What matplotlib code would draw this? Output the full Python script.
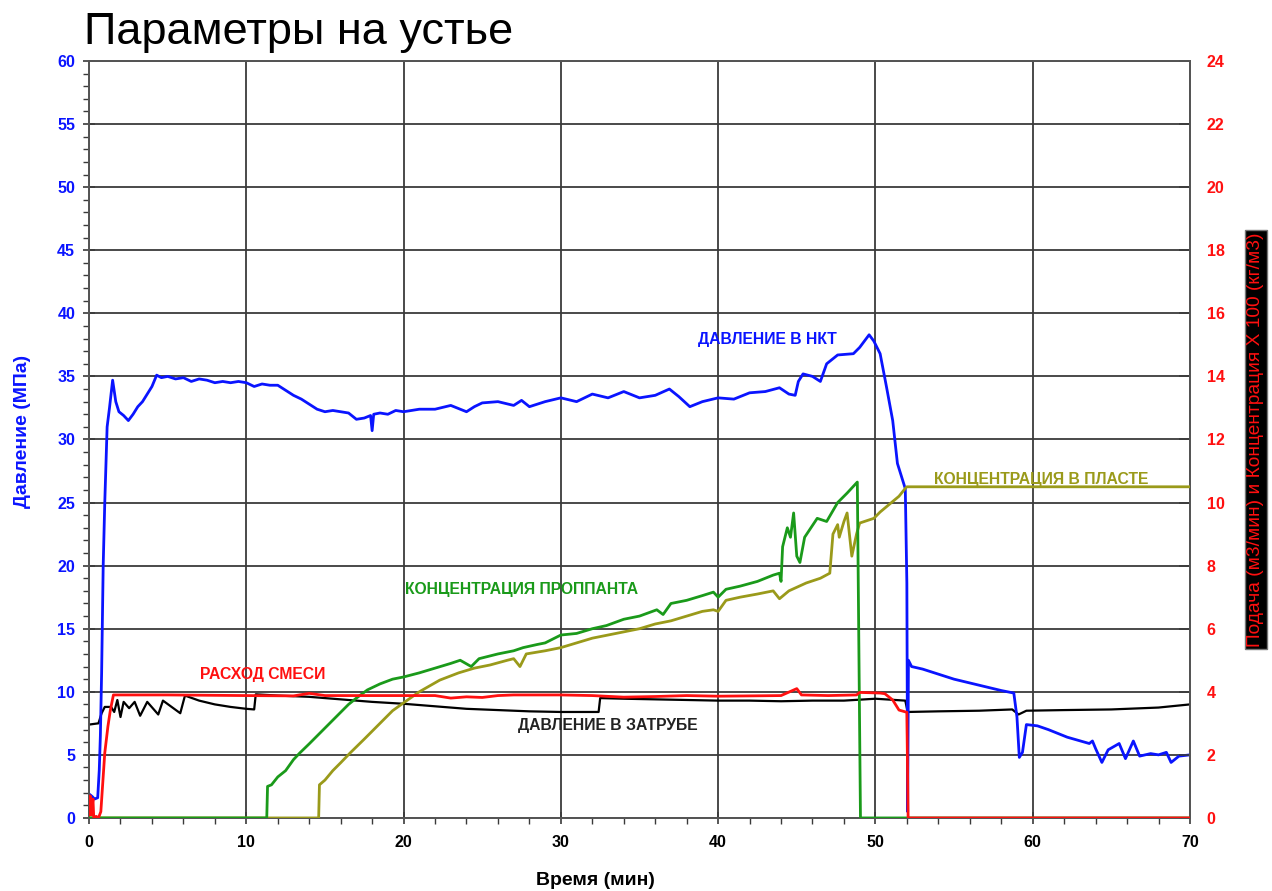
import matplotlib
matplotlib.use("Agg")
import matplotlib.pyplot as plt
from matplotlib.ticker import MultipleLocator

plt.rcParams['font.family'] = ['Liberation Sans', 'DejaVu Sans']

# ---------------- data ----------------
tubing_t = [0, 0.2, 0.35, 0.55, 0.65, 0.72, 0.8, 0.9, 1.0, 1.15, 1.3, 1.5, 1.7, 1.9, 2.2, 2.5, 2.8,
            3.1, 3.4, 3.7, 4.0, 4.3, 4.6, 5.0, 5.5, 6.0, 6.5, 7.0, 7.5, 8.0, 8.5, 9.0, 9.5, 10.0,
            10.5, 11.0, 11.5, 12.0, 12.5, 13.0, 13.5, 14.0, 14.5, 15.0, 15.5, 16.0, 16.5, 17.0,
            17.5, 17.9, 18.0, 18.1, 18.5, 19.0, 19.5, 20.0, 21.0, 22.0, 23.0, 24.0, 24.5, 25.0,
            26.0, 27.0, 27.5, 28.0, 29.0, 30.0, 31.0, 32.0, 33.0, 34.0, 35.0, 36.0, 36.9, 37.5,
            38.2, 39.0, 40.0, 41.0, 42.0, 43.0, 43.9, 44.5, 44.9, 45.1, 45.4, 46.0, 46.5, 46.9,
            47.6, 48.6, 49.0, 49.6, 49.9, 50.3, 50.7, 51.1, 51.4, 51.9, 52.0, 52.05, 52.1, 52.3,
            53.0, 54.0, 55.0, 56.0, 57.0, 58.0, 58.8, 59.0, 59.15, 59.35, 59.6, 60.3, 61.0, 62.2,
            63.6, 63.8, 64.0, 64.4, 64.8, 65.5, 65.9, 66.4, 66.8, 67.5, 68.0, 68.5, 68.8, 69.3, 70.0]
tubing_p = [1.9, 1.7, 1.5, 1.6, 3.8, 6.5, 11.5, 20.0, 25.0, 31.0, 32.5, 34.7, 33.0, 32.2, 31.9, 31.5, 32.0,
            32.6, 33.0, 33.6, 34.2, 35.1, 34.9, 35.0, 34.8, 34.9, 34.6, 34.8, 34.7, 34.5, 34.6, 34.5, 34.6, 34.5,
            34.2, 34.4, 34.3, 34.3, 33.9, 33.5, 33.2, 32.8, 32.4, 32.2, 32.3, 32.2, 32.1, 31.6,
            31.7, 31.9, 30.7, 32.0, 32.1, 32.0, 32.3, 32.2, 32.4, 32.4, 32.7, 32.2, 32.6, 32.9,
            33.0, 32.7, 33.1, 32.6, 33.0, 33.3, 33.0, 33.6, 33.3, 33.8, 33.3, 33.5, 34.0, 33.4,
            32.6, 33.0, 33.3, 33.2, 33.7, 33.8, 34.1, 33.6, 33.5, 34.6, 35.2, 35.0, 34.6, 36.0,
            36.7, 36.8, 37.3, 38.3, 37.8, 36.8, 34.2, 31.5, 28.1, 26.1, 18.6, 0.5, 12.5, 12.0,
            11.8, 11.4, 11.0, 10.7, 10.4, 10.1, 9.9, 8.0, 4.8, 5.2, 7.4, 7.3, 7.0, 6.4,
            5.9, 6.1, 5.5, 4.4, 5.4, 5.9, 4.7, 6.1, 4.9, 5.1, 5.0, 5.2, 4.4, 4.9, 5.0]

annulus_t = [0, 0.6, 0.8, 1.0, 1.4, 1.6, 1.8, 2.0, 2.2, 2.55, 2.9, 3.25, 3.7, 4.4, 4.7, 5.8, 6.1, 7.0,
             8.0, 9.0, 10.0, 10.5, 10.6, 12.0, 14.0, 16.0, 18.0, 20.0, 22.0, 24.0, 26.0, 28.0, 30.0,
             32.4, 32.5, 34.0, 36.0, 38.0, 40.0, 42.0, 44.0, 46.0, 48.0, 50.0, 51.9, 52.05, 54.0,
             56.6, 58.7, 59.1, 59.6, 62.0, 65.0, 68.0, 70.0]
annulus_p = [7.4, 7.5, 8.3, 8.8, 8.8, 8.4, 9.35, 8.0, 9.2, 8.7, 9.2, 8.1, 9.2, 8.2, 9.3, 8.3, 9.7, 9.3,
             9.0, 8.8, 8.65, 8.6, 9.8, 9.7, 9.6, 9.4, 9.2, 9.05, 8.85, 8.65, 8.55, 8.45, 8.4,
             8.4, 9.5, 9.45, 9.4, 9.35, 9.3, 9.3, 9.25, 9.3, 9.3, 9.45, 9.3, 8.4, 8.45,
             8.5, 8.6, 8.2, 8.5, 8.55, 8.6, 8.75, 9.0]

rate_t = [0, 0.08, 0.15, 0.25, 0.3, 0.45, 0.6, 0.75, 1.0, 1.2, 1.35, 1.55, 5.0, 10.0, 13.0, 14.0, 15.0,
          20.0, 22.0, 23.0, 24.0, 25.0, 26.0, 27.0, 30.0, 32.0, 34.0, 36.0, 38.0, 40.0, 42.0, 44.0,
          45.0, 45.3, 47.0, 48.8, 49.0, 50.3, 50.6, 51.1, 51.5, 52.0, 52.08, 70.0]
rate_v = [0.1, 0.7, 0.1, 0.6, 0.0, 0.05, 0.0, 0.2, 2.06, 2.9, 3.4, 3.9, 3.9, 3.88, 3.87, 3.95, 3.88,
          3.88, 3.88, 3.8, 3.84, 3.82, 3.88, 3.9, 3.9, 3.88, 3.83, 3.85, 3.88, 3.86, 3.87, 3.88,
          4.1, 3.9, 3.88, 3.9, 3.98, 3.96, 3.94, 3.74, 3.42, 3.35, 0.0, 0.0]

prop_t = [0, 11.3, 11.35, 11.6, 12.0, 12.5, 13.0, 13.4, 14.0, 14.5, 15.0, 15.5, 16.0, 16.5, 17.0, 17.7,
          18.5, 19.3, 20.0, 21.0, 22.0, 23.0, 23.6, 24.3, 24.8, 26.0, 27.0, 27.6, 28.5, 29.0, 30.0,
          31.0, 32.0, 32.9, 34.0, 35.0, 36.1, 36.5, 37.0, 38.0, 39.0, 39.7, 40.0, 40.5, 41.4, 42.5,
          43.5, 43.9, 44.0, 44.1, 44.4, 44.6, 44.8, 45.0, 45.2, 45.5, 46.3, 46.9, 47.6, 48.2, 48.85,
          49.05, 70.0]
prop_v = [0, 0, 1.0, 1.05, 1.3, 1.5, 1.85, 2.06, 2.35, 2.6, 2.85, 3.1, 3.35, 3.6, 3.8, 4.06,
          4.25, 4.4, 4.47, 4.6, 4.75, 4.9, 5.0, 4.8, 5.05, 5.2, 5.3, 5.4, 5.5, 5.55, 5.8,
          5.85, 6.0, 6.1, 6.3, 6.4, 6.6, 6.45, 6.8, 6.9, 7.05, 7.16, 7.0, 7.25, 7.35, 7.5,
          7.7, 7.76, 7.5, 8.6, 9.2, 8.9, 9.67, 8.3, 8.1, 8.9, 9.5, 9.4, 10.0, 10.3, 10.65,
          0.0, 0.0]

form_t = [0, 14.6, 14.65, 15.0, 15.5, 16.0, 16.6, 17.5, 18.5, 19.3, 20.0, 21.0, 22.3, 23.5, 24.5, 25.5,
          26.6, 27.0, 27.4, 27.8, 29.0, 30.0, 31.0, 32.0, 33.0, 34.0, 35.0, 36.0, 37.0, 38.0, 39.0,
          39.7, 40.0, 40.5, 41.4, 42.5, 43.5, 43.9, 44.5, 45.6, 46.5, 47.1, 47.3, 47.6, 47.7, 48.0,
          48.2, 48.5, 48.8, 49.0, 49.9, 50.3, 50.9, 51.5, 51.9, 52.0, 70.0]
form_v = [0, 0, 1.05, 1.2, 1.5, 1.75, 2.06, 2.5, 3.0, 3.4, 3.65, 4.0, 4.37, 4.6, 4.75, 4.85,
          5.0, 5.05, 4.8, 5.2, 5.3, 5.4, 5.55, 5.7, 5.8, 5.9, 6.0, 6.15, 6.25, 6.4, 6.55,
          6.6, 6.55, 6.9, 7.0, 7.1, 7.2, 6.95, 7.2, 7.45, 7.6, 7.76, 9.0, 9.3, 8.9, 9.4,
          9.67, 8.3, 9.0, 9.35, 9.5, 9.7, 9.95, 10.2, 10.45, 10.5, 10.5]

left_ticks = [0, 5, 10, 15, 20, 25, 30, 35, 40, 45, 50, 55, 60]
right_ticks = [0, 2, 4, 6, 8, 10, 12, 14, 16, 18, 20, 22, 24]
x_ticks = [0, 10, 20, 30, 40, 50, 60, 70]

# ---------------- colours ----------------
BLUE = '#0a14ff'
RED = '#ff1010'
GREEN = '#1a9a1a'
OLIVE = '#9a9a1a'
GRID = '#3a3a3a'

fig = plt.figure(figsize=(12.72, 8.91), dpi=100)
ax = fig.add_axes([0.070, 0.082, 0.8655, 0.8495])
ax2 = ax.twinx()

ax.set_xlim(0, 70)
ax.set_ylim(0, 60)
ax2.set_ylim(0, 24)

ax.set_xticks(x_ticks)
ax.set_yticks(left_ticks)
ax2.set_yticks(right_ticks)
ax.xaxis.set_minor_locator(MultipleLocator(2))
ax.yaxis.set_minor_locator(MultipleLocator(1))

ax.grid(True, which='major', color=GRID, linewidth=1.3)
ax.set_axisbelow(True)

for a in (ax, ax2):
    for s in a.spines.values():
        s.set_color('#555555')
        s.set_linewidth(1.3)

ax.tick_params(axis='y', which='major', direction='inout', length=8, width=1.2,
               colors=GRID, labelcolor=BLUE, labelsize=11.5, pad=6)
ax.tick_params(axis='y', which='minor', direction='out', length=4, width=1.0, colors=GRID)
ax.tick_params(axis='x', which='major', direction='inout', length=8, width=1.2,
               colors=GRID, labelcolor='black', labelsize=11.5, pad=8)
ax.tick_params(axis='x', which='minor', direction='out', length=4, width=1.0, colors=GRID)
ax2.tick_params(axis='y', which='major', direction='in', length=8, width=1.2,
                colors=GRID, labelcolor=RED, labelsize=11.5, pad=12)

for lab in ax.get_xticklabels() + ax.get_yticklabels() + ax2.get_yticklabels():
    lab.set_fontweight('bold')

# lines
ax.plot(annulus_t, annulus_p, color='black', linewidth=1.6, zorder=3)
ax.plot(tubing_t, tubing_p, color=BLUE, linewidth=2.0, zorder=4)
ax2.plot(form_t, form_v, color=OLIVE, linewidth=2.0, zorder=3)
ax2.plot(prop_t, prop_v, color=GREEN, linewidth=2.0, zorder=4)
ax2.plot(rate_t, rate_v, color=RED, linewidth=2.0, zorder=5)

# labels
ax.set_ylabel('Давление (МПа)', color=BLUE, fontsize=14, fontweight='bold')
ax.yaxis.set_label_coords(-0.053, 0.51)
ax.set_xlabel('Время (мин)', color='black', fontsize=14, fontweight='bold')
ax.xaxis.set_label_coords(0.46, -0.072)
ax2.set_ylabel('Подача (м3/мин) и Концентрация Х 100 (кг/м3)', color=RED, fontsize=13.8,
               bbox=dict(facecolor='black', edgecolor='#777777', pad=2))
ax2.yaxis.set_label_coords(1.052, 0.5)

fig.text(0.066, 0.951, 'Параметры на устье', fontsize=32.5, color='black', va='baseline', ha='left')

# annotations
ann_kw = dict(fontsize=11.3, fontweight='bold', va='center', ha='left')
ax.text(38.7, 37.9, 'ДАВЛЕНИЕ В НКТ', color=BLUE, **ann_kw)
ax.text(53.7, 26.8, 'КОНЦЕНТРАЦИЯ В ПЛАСТЕ', color=OLIVE, **ann_kw)
ax.text(20.1, 18.1, 'КОНЦЕНТРАЦИЯ ПРОППАНТА', color=GREEN, **ann_kw)
ax.text(7.06, 11.4, 'РАСХОД СМЕСИ', color=RED, **ann_kw)
ax.text(27.3, 7.3, 'ДАВЛЕНИЕ В ЗАТРУБЕ', color='#222222', **ann_kw)

fig.savefig('out.png', dpi=100)
